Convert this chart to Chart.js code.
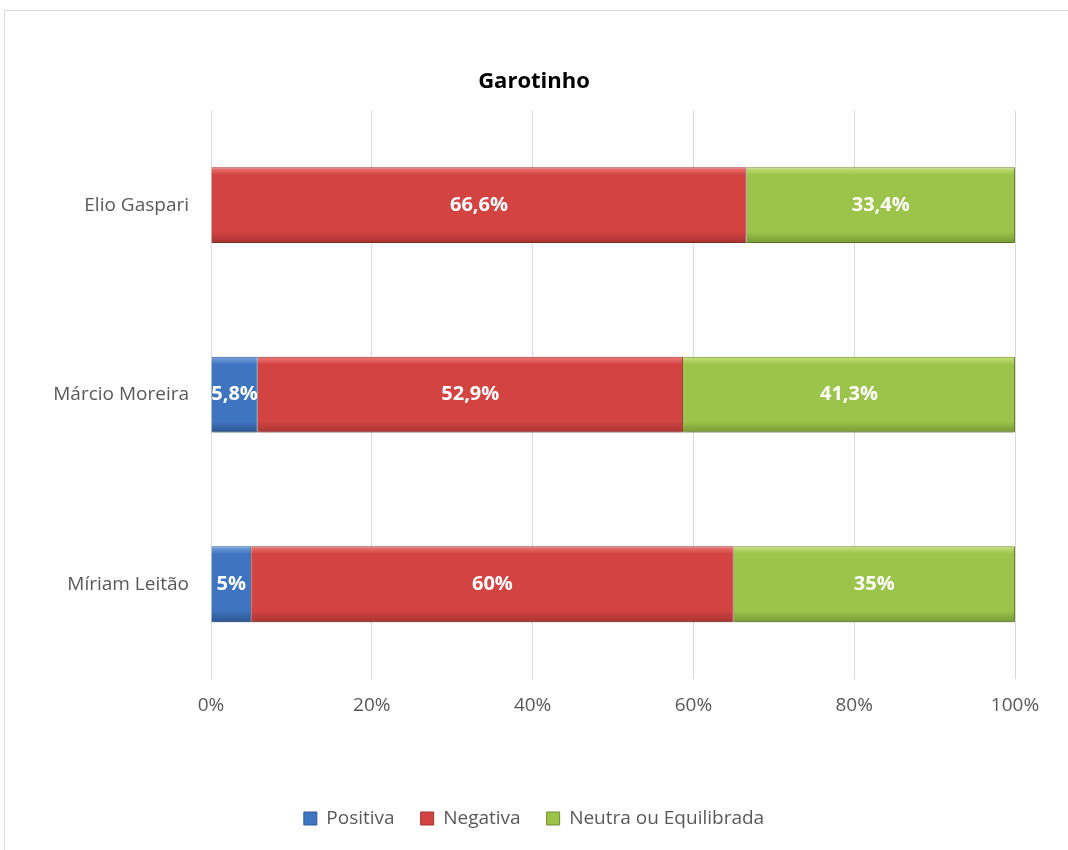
<!DOCTYPE html>
<html>
<head>
<meta charset="utf-8">
<script src="https://cdn.jsdelivr.net/npm/chart.js@4.4.1/dist/chart.umd.min.js"></script>
<style>
    body { margin: 0; background: #fff; overflow: hidden; }
    #frame { position: absolute; left: 4px; top: 10px; width: 1100px; height: 900px; border: 1px solid #d9d9d9; }
    #wrap { position: absolute; left: 0; top: 0; width: 1068px; height: 850px; }
</style>
</head>
<body>
<div id="frame"></div>
<div id="wrap"><canvas id="chart"></canvas></div>
<script>
// Values per columnist (percent)
const colunistas = ['Elio Gaspari', 'Márcio Moreira', 'Míriam Leitão'];
const positiva = [0, 5.8, 5];
const negativa = [66.6, 52.9, 60];
const neutra = [33.4, 41.3, 35];
const xTicks = [0, 20, 40, 60, 80, 100];

const fontFamily = '"Open Sans", "Noto Sans", sans-serif';
const textGrey = '#595959';

// Bevelled fill: light top edge, base body, darker bottom edge
function bevel(light, base, dark) {
    return function(context) {
        const chart = context.chart;
        const y = chart.scales.y;
        if (!chart.chartArea || !y || context.type !== 'data') return base;
        const center = y.getPixelForValue(context.dataIndex);
        const half = (chart.chartArea.bottom - chart.chartArea.top) / colunistas.length * 0.4 / 2;
        const g = chart.ctx.createLinearGradient(0, center - half, 0, center + half);
        g.addColorStop(0, light);
        g.addColorStop(0.1, base);
        g.addColorStop(0.85, base);
        g.addColorStop(1, dark);
        return g;
    };
}

const baseColors = ['#3f74c0', '#d24342', '#9cc44a'];

const barLabels = {
    id: 'barLabels',
    beforeDatasetsDraw(chart) {
        const ctx = chart.ctx;
        ctx.save();
        ctx.shadowColor = 'rgba(0,0,0,0.25)';
        ctx.shadowBlur = 4;
        ctx.shadowOffsetY = 3;
    },
    afterDatasetsDraw(chart) {
        const ctx = chart.ctx;
        ctx.restore();
        ctx.save();
        ctx.font = 'bold 20px ' + fontFamily;
        ctx.fillStyle = '#ffffff';
        ctx.textAlign = 'center';
        ctx.textBaseline = 'middle';
        chart.data.datasets.forEach((ds, i) => {
            chart.getDatasetMeta(i).data.forEach((bar, j) => {
                const v = ds.data[j];
                if (!v) return;
                const p = bar.getCenterPoint();
                ctx.fillText(String(v).replace('.', ',') + '%', p.x, p.y);
            });
        });
        ctx.restore();
    }
};

new Chart(document.getElementById('chart'), {
    type: 'bar',
    data: {
        labels: colunistas,
        datasets: [{
            label: 'Positiva',
            data: positiva,
            backgroundColor: bevel('#7aa6e0', '#3f74c0', '#2c5590'),
            borderColor: '#2f5c9c',
            borderWidth: 1
        }, {
            label: 'Negativa',
            data: negativa,
            backgroundColor: bevel('#ef7a78', '#d24342', '#a83432'),
            borderColor: '#a33432',
            borderWidth: 1
        }, {
            label: 'Neutra ou Equilibrada',
            data: neutra,
            backgroundColor: bevel('#c8e27e', '#9cc44a', '#789a35'),
            borderColor: '#6f8e31',
            borderWidth: 1
        }]
    },
    options: {
        indexAxis: 'y',
        responsive: true,
        maintainAspectRatio: false,
        animation: false,
        layout: { padding: { top: 69, right: 53, bottom: 12, left: 53 } },
        datasets: { bar: { categoryPercentage: 0.8, barPercentage: 0.5 } },
        scales: {
            x: {
                stacked: true,
                min: 0,
                max: 100,
                border: { display: false },
                grid: { color: '#d9d9d9', drawTicks: false },
                afterBuildTicks: axis => { axis.ticks = xTicks.map(v => ({ value: v })); },
                afterFit: axis => { axis.height = 104; },
                ticks: {
                    padding: 15,
                    color: textGrey,
                    font: { family: fontFamily, size: 19 },
                    callback: v => v + '%'
                }
            },
            y: {
                stacked: true,
                border: { display: false },
                grid: { display: false },
                afterFit: axis => { axis.width = 158; },
                ticks: {
                    padding: 14,
                    color: textGrey,
                    font: { family: fontFamily, size: 19 }
                }
            }
        },
        plugins: {
            title: {
                display: true,
                text: 'Garotinho',
                color: '#000',
                font: { family: fontFamily, size: 22, weight: 'bold' },
                padding: { top: 0, bottom: 15 }
            },
            legend: {
                position: 'bottom',
                labels: {
                    color: textGrey,
                    font: { family: fontFamily, size: 19 },
                    boxWidth: 13,
                    boxHeight: 13,
                    padding: 26,
                    generateLabels: chart => Chart.defaults.plugins.legend.labels.generateLabels(chart)
                        .map((item, i) => Object.assign(item, { fillStyle: baseColors[i] }))
                }
            },
            tooltip: { enabled: false }
        }
    },
    plugins: [barLabels]
});
</script>
</body>
</html>
